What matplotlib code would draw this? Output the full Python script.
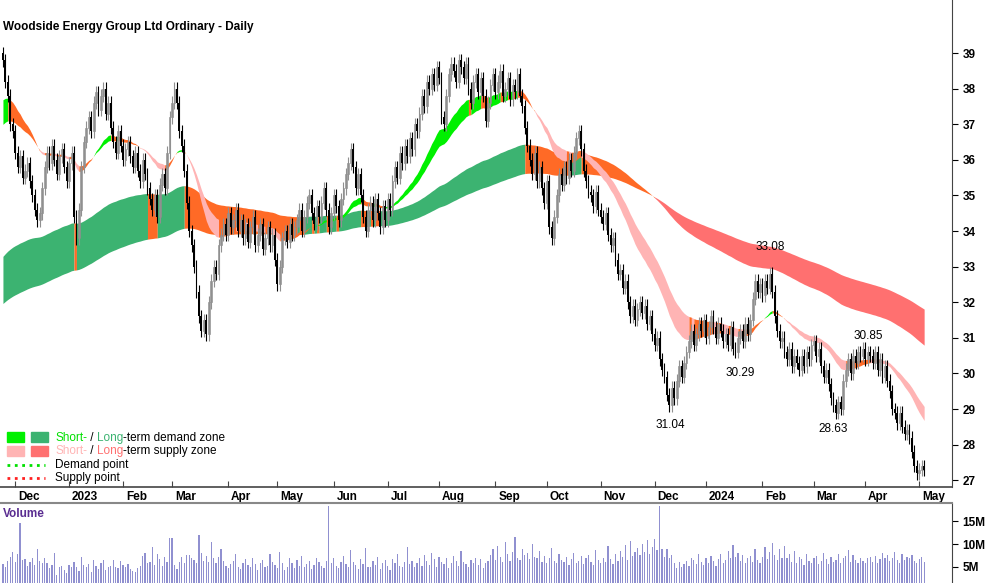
import numpy as np
import pandas as pd
import matplotlib.pyplot as plt
from matplotlib.patches import Rectangle

plt.rcParams['font.family'] = ['Liberation Sans', 'DejaVu Sans']

# daily closes, one row per week
closes = [
  38.8, 38.2, 37.8, 37.0, 36.8,
  36.2, 35.8, 36.1, 35.5, 35.7,
  35.9, 35.4, 35.0, 34.6, 34.3,
  34.5, 35.2, 35.8, 36.2, 35.9,
  36.4, 36.0, 35.6, 36.1, 36.3,
  35.8, 35.4, 35.9, 36.2, 34.4,
  33.8, 34.6, 35.8, 36.5, 36.9,
  37.2, 36.8, 37.6, 37.9, 37.4,
  37.8, 38.0, 37.3, 37.6, 36.9,
  36.5, 36.2, 36.8, 36.4, 36.0,
  36.3, 36.5, 36.1, 35.8, 36.2,
  35.7, 35.4, 36.0, 35.6, 35.2,
  34.9, 34.6, 35.0, 34.4, 35.3,
  35.6, 35.2, 36.2, 37.2, 37.6,
  38.0, 37.6, 36.8, 36.4, 35.7,
  34.8, 34.0, 33.6, 33.0, 32.3,
  31.6, 31.2, 31.5, 31.1, 32.0,
  32.6, 33.0, 32.8, 33.6, 33.9,
  34.2, 33.9, 34.5, 34.1, 34.3,
  34.6, 34.0, 34.3, 33.8, 34.2,
  33.7, 34.1, 34.4, 33.6, 33.9,
  34.2, 33.5, 33.8, 34.1, 33.6,
  33.9, 33.2, 32.5, 33.0, 33.8,
  34.0, 33.7, 34.2, 33.9, 34.1,
  34.3, 34.6, 34.0, 34.4, 34.8,
  35.0, 34.5, 34.2, 34.7, 34.4,
  34.8, 35.2, 34.6, 34.1, 34.5,
  35.0, 34.7, 34.3, 34.9, 35.2,
  35.6, 35.9, 36.3, 35.8, 35.2,
  35.6, 35.0, 34.4, 34.0, 34.6,
  34.8, 34.3, 34.9, 34.5, 34.1,
  34.7, 34.3, 34.9, 34.6, 35.4,
  35.8, 35.5, 36.2, 35.9, 36.4,
  36.1, 36.6, 36.3, 37.0, 36.8,
  37.3, 37.8, 37.5, 38.2, 38.0,
  38.4, 38.1, 38.6, 38.3, 37.2,
  37.0, 37.8, 38.4, 38.7, 38.5,
  38.2, 38.8, 38.6, 38.3, 38.7,
  38.0, 37.6, 38.2, 38.4, 37.9,
  38.3, 37.8, 37.1, 37.6, 38.1,
  38.4, 37.9, 38.2, 38.5, 37.8,
  38.0, 38.3, 37.7, 38.1, 37.9,
  38.4, 37.8, 37.5, 36.9, 36.4,
  36.0, 35.6, 36.2, 35.4, 35.8,
  35.2, 34.8, 35.4, 34.1, 33.8,
  34.4, 35.0, 35.6, 35.3, 35.8,
  35.5, 36.0, 35.7, 36.2, 36.6,
  36.8, 36.3, 35.7, 35.4, 35.1,
  35.0, 34.7, 35.1, 34.6, 34.4,
  34.2, 34.5, 33.9, 33.6, 33.8,
  33.2, 32.8, 32.9, 32.4, 32.6,
  32.0, 31.6, 31.9, 31.5, 31.8,
  32.0, 31.7, 31.9, 31.4, 31.6,
  31.1, 30.8, 31.0, 30.4, 30.1,
  29.9, 29.4, 29.1, 29.6, 29.3,
  29.8, 30.2, 29.9, 30.3, 30.6,
  30.9, 31.2, 30.8, 31.1, 31.4,
  31.2, 31.5, 31.0, 31.3, 31.6,
  31.3, 31.0, 31.4, 31.2, 30.9,
  31.1, 30.8, 31.3, 30.7, 30.6,
  31.0, 31.2, 30.9, 31.4, 31.1,
  31.5, 32.1, 32.6, 32.3, 32.5,
  32.2, 32.6, 32.4, 32.8, 32.3,
  31.6, 31.2, 30.9, 31.0, 30.6,
  30.4, 30.7, 30.2, 30.5, 30.3,
  30.1, 30.5, 30.2, 30.6, 30.4,
  30.8, 30.9, 30.5, 30.7, 30.2,
  29.9, 30.1, 29.7, 29.3, 29.1,
  28.9, 29.2, 29.0, 29.8, 30.1,
  30.4, 30.0, 30.5, 30.3, 30.6,
  30.5, 30.7, 30.4, 30.6, 30.5,
  30.3, 30.6, 30.1, 30.4, 29.9,
  30.2, 29.8, 29.5, 29.0, 28.9,
  28.6, 28.9, 28.5, 28.3, 28.4,
  28.2, 27.8, 27.4, 27.2, 27.3,
  27.4, 27.3,
]

# volume in millions
volumes = [
  5.5, 4.8, 6.2, 7.1, 8.3, 6.0, 7.9, 14.6, 6.4, 6.6,
  5.2, 6.1, 6.8, 5.4, 8.9, 6.3, 5.7, 7.0, 5.9, 4.6,
  5.4, 8.0, 3.2, 5.0, 5.1, 4.2, 3.5, 5.3, 4.8, 6.1,
  5.0, 4.1, 7.2, 5.3, 4.8, 5.5, 3.9, 6.4, 5.2, 4.4,
  5.7, 6.5, 4.3, 4.8, 5.1, 6.4, 5.0, 4.6, 6.2, 5.3,
  4.9, 5.5, 4.4, 4.0, 3.8, 4.6, 5.2, 7.4, 8.1, 5.8,
  6.0, 9.4, 5.4, 7.8, 6.6, 5.1, 7.2, 6.0, 11.3, 11.4,
  5.4, 4.5, 6.0, 7.2, 5.8, 7.5, 7.6, 6.9, 6.4, 5.7,
  12.0, 8.1, 6.3, 7.4, 6.1, 10.5, 6.8, 5.9, 7.1, 8.8,
  6.2, 5.1, 4.7, 5.6, 6.3, 7.8, 5.0, 4.4, 5.9, 6.6,
  5.3, 4.8, 6.9, 5.5, 4.2, 5.8, 6.4, 4.9, 5.2, 7.7,
  6.1, 5.4, 4.6, 8.3, 5.7, 4.3, 5.0, 6.8, 5.9, 4.7,
  6.5, 5.2, 7.4, 4.8, 5.6, 6.2, 4.5, 5.3, 7.0, 6.0,
  5.1, 4.6, 6.3, 18.5, 5.8, 6.9, 5.2, 4.7, 6.1, 7.3,
  5.5, 4.9, 8.6, 6.0, 5.3, 4.4, 6.7, 5.6, 9.1, 5.0,
  4.8, 6.2, 5.4, 7.1, 4.5, 5.9, 6.4, 5.1, 4.3, 6.6,
  5.7, 7.8, 5.2, 4.8, 6.0, 9.3, 5.5, 6.3, 4.9, 5.8,
  6.8, 5.1, 7.5, 6.2, 5.4, 8.0, 6.6, 5.0, 7.2, 6.1,
  5.6, 6.9, 4.7, 5.9, 7.4, 6.3, 5.2, 8.4, 6.0, 5.5,
  4.9, 6.4, 5.8, 7.0, 5.3, 6.7, 4.6, 5.9, 6.2, 7.6,
  8.8, 6.5, 9.6, 7.1, 6.0, 10.4, 7.7, 6.3, 8.2, 11.6,
  7.0, 6.4, 9.0, 7.5, 8.1, 6.6, 10.1, 7.2, 6.8, 8.5,
  6.1, 7.4, 5.8, 6.9, 9.2, 6.3, 5.7, 7.8, 6.5, 6.0,
  7.1, 5.4, 6.6, 8.0, 5.9, 6.2, 7.3, 5.5, 6.8, 7.6,
  6.0, 5.3, 8.7, 6.4, 5.8, 7.0, 6.1, 9.5, 6.7, 5.6,
  7.9, 6.2, 8.4, 7.1, 9.8, 6.5, 10.6, 7.4, 8.2, 9.1,
  7.6, 9.9, 8.3, 10.8, 7.8, 9.4, 11.2, 8.6, 18.5, 9.0,
  7.2, 8.8, 6.9, 7.5, 5.8, 4.6, 6.1, 4.9, 5.6, 6.3,
  5.2, 7.0, 6.4, 5.5, 7.7, 6.0, 5.3, 6.8, 5.9, 7.3,
  6.2, 5.1, 6.6, 7.9, 5.7, 6.4, 8.5, 6.9, 9.7, 7.2,
  8.1, 6.3, 7.6, 5.8, 6.9, 7.4, 6.0, 8.8, 6.5, 5.9,
  7.1, 9.3, 6.7, 8.2, 10.3, 7.5, 6.4, 8.9, 7.0, 9.6,
  6.8, 7.7, 6.1, 8.4, 5.9, 7.2, 6.6, 5.4, 7.9, 6.3,
  5.8, 6.9, 7.4, 5.5, 6.2, 8.0, 6.7, 5.6, 7.1, 6.0,
  6.5, 7.8, 5.9, 6.8, 7.3, 8.6, 6.1, 7.5, 6.4, 5.7,
  7.0, 6.3, 5.8, 6.9, 7.2, 6.1, 7.4, 5.9, 6.6, 8.1,
  6.8, 7.5, 6.2, 7.0, 8.3, 6.4, 5.9, 7.7, 6.5, 7.2,
  6.9, 7.6, 6.3, 5.8, 6.7, 7.1, 6.0,
]

labels = [("33.08", 33.55, 770), ("30.29", 30.0, 740),
          ("31.04", 28.55, 670), ("28.63", 28.45, 833),
          ("30.85", 31.05, 868)]

dates = pd.bdate_range("2022-11-24", periods=len(closes))
n = len(closes)
x = np.arange(n)
c = np.array(closes)
o = np.concatenate([[c[0] + 0.2], c[:-1]])
hi = np.maximum(o, c) + 0.18
lo = np.minimum(o, c) - 0.18


def ema(values, span, seed):
  a = 2 / (span + 1)
  out = np.empty(len(values))
  prev = seed
  for i, v in enumerate(values):
    prev = prev + a * (v - prev)
    out[i] = prev
  return out


s_fast = ema(c, 26, 37.6)
s_slow = ema(c, 38, 36.9)
l_fast = ema(c, 125, 33.2)
l_slow = ema(c, 210, 31.9)


def band(ax, fast, slow, up_col, mid_col, dn_col):
  cols = []
  for i in range(n - 1):
    rising = fast[i + 1] >= fast[i]
    if fast[i] > slow[i] and rising:
      cols.append(up_col)
    elif fast[i] < slow[i] and not rising:
      cols.append(dn_col)
    else:
      cols.append(mid_col)
  start = 0
  for i in range(1, n):
    if i == n - 1 or cols[i] != cols[start]:
      seg = slice(start, i + 1)
      ax.fill_between(x[seg], fast[seg], slow[seg], color=cols[start], linewidth=0)
      start = i


fig = plt.figure(figsize=(10, 5.83), dpi=100)
ax = fig.add_axes([0, 1 - 487 / 583, 0.952, 487 / 583])
axv = fig.add_axes([0, 0, 0.952, 80 / 583])

band(ax, l_fast, l_slow, "#3CB371", "#FF6A26", "#FF7070")
band(ax, s_fast, s_slow, "#00F000", "#FF6A26", "#FFB4B4")

up = c >= o
ax.vlines(x[up], lo[up], hi[up], color="#909090", linewidth=0.8)
ax.vlines(x[~up], lo[~up], hi[~up], color="black", linewidth=0.8)
ax.bar(x[up], (c - o)[up], bottom=o[up], width=0.75, color="#B8B8B8",
       edgecolor="#808080", linewidth=0.4)
ax.bar(x[~up], (c - o)[~up], bottom=o[~up], width=0.75, color="black", linewidth=0)

x0 = -1.2
x1 = x0 + 952 / 2.45
ax.set_xlim(x0, x1)
axv.set_xlim(x0, x1)
ax.set_ylim(26.81, 40.49)

for txt, ty, px in labels:
  ax.text((px - 3) / 2.45, ty, txt, ha="center", va="center", fontsize=8.5)

ax.text(0.003, 0.945, "Woodside Energy Group Ltd Ordinary - Daily", transform=ax.transAxes,
        fontsize=8.5, fontweight="bold", va="center")

# month ticks
month_idx = []
month_lab = []
for i in range(1, n):
  if dates[i].month != dates[i - 1].month:
    month_idx.append(i)
    month_lab.append(str(dates[i].year) if dates[i].month == 1 else dates[i].strftime("%b"))
ax.set_xticks(month_idx)
ax.set_xticklabels([])
ax.tick_params(axis="x", direction="in", length=4, color="#444444")
for mi, ml in zip(month_idx, month_lab):
  ax.annotate(ml, (mi, 0), xycoords=("data", "axes fraction"), xytext=(2, -7),
              textcoords="offset points", fontsize=8.5, fontweight="bold", va="center")

ax.yaxis.tick_right()
ax.set_yticks(range(27, 40))
ax.tick_params(axis="y", length=4, labelsize=8.5, pad=4)
for lab in ax.get_yticklabels():
  lab.set_fontweight("bold")

for a in (ax, axv):
  a.spines["top"].set_visible(False)
  a.spines["left"].set_visible(False)
  a.spines["right"].set_color("#444444")
ax.spines["bottom"].set_color("#444444")
ax.spines["bottom"].set_linewidth(1.2)

axv.bar(x, volumes, width=0.5, color="#9090D0")
axv.set_ylim(1.36, 19.1)
axv.yaxis.tick_right()
axv.set_yticks([5, 10, 15])
axv.set_yticklabels(["5M", "10M", "15M"], fontsize=8.5, fontweight="bold")
axv.tick_params(axis="y", length=4)
axv.set_xticks([])
axv.spines["bottom"].set_visible(False)
axv.spines["top"].set_visible(True)
axv.spines["top"].set_color("#888888")
axv.spines["top"].set_linewidth(1.5)
axv.text(0.003, 0.86, "Volume", transform=axv.transAxes, fontsize=8.5,
         fontweight="bold", color="#5A2D91", va="center")

# legend, in figure pixels
H = 583.0
def fy(py):
  return 1 - py / H

renderer = fig.canvas.get_renderer()

def pieces(py, parts):
  px = 55
  for txt, col in parts:
    t = fig.text(px / 1000, fy(py), txt, color=col, fontsize=8.5, va="center")
    px += t.get_window_extent(renderer).width

for py, c1, c2 in [(437, "#00F000", "#3CB371"), (451, "#FFB4B4", "#FF7070")]:
  fig.patches.append(Rectangle((7 / 1000, fy(py + 5)), 17 / 1000, 10 / H, color=c1,
                               transform=fig.transFigure))
  fig.patches.append(Rectangle((31 / 1000, fy(py + 5)), 17 / 1000, 10 / H, color=c2,
                               transform=fig.transFigure))
pieces(438, [("Short-", "#00E000"), ("\u00a0/\u00a0", "black"), ("Long", "#3CB371"),
             ("-term demand zone", "black")])
pieces(451, [("Short-", "#FFB4B4"), ("\u00a0/\u00a0", "black"), ("Long", "#FF7070"),
             ("-term supply zone", "black")])
fig.lines.append(plt.Line2D([7 / 1000, 45 / 1000], [fy(465), fy(465)], color="#00E000",
                            linestyle=":", linewidth=2, transform=fig.transFigure))
fig.lines.append(plt.Line2D([7 / 1000, 45 / 1000], [fy(478), fy(478)], color="#FF2020",
                            linestyle=":", linewidth=2, transform=fig.transFigure))
fig.text(55 / 1000, fy(465), "Demand point", fontsize=8.5, va="center")
fig.text(55 / 1000, fy(478), "Supply point", fontsize=8.5, va="center")

fig.savefig("out.png", dpi=100)
